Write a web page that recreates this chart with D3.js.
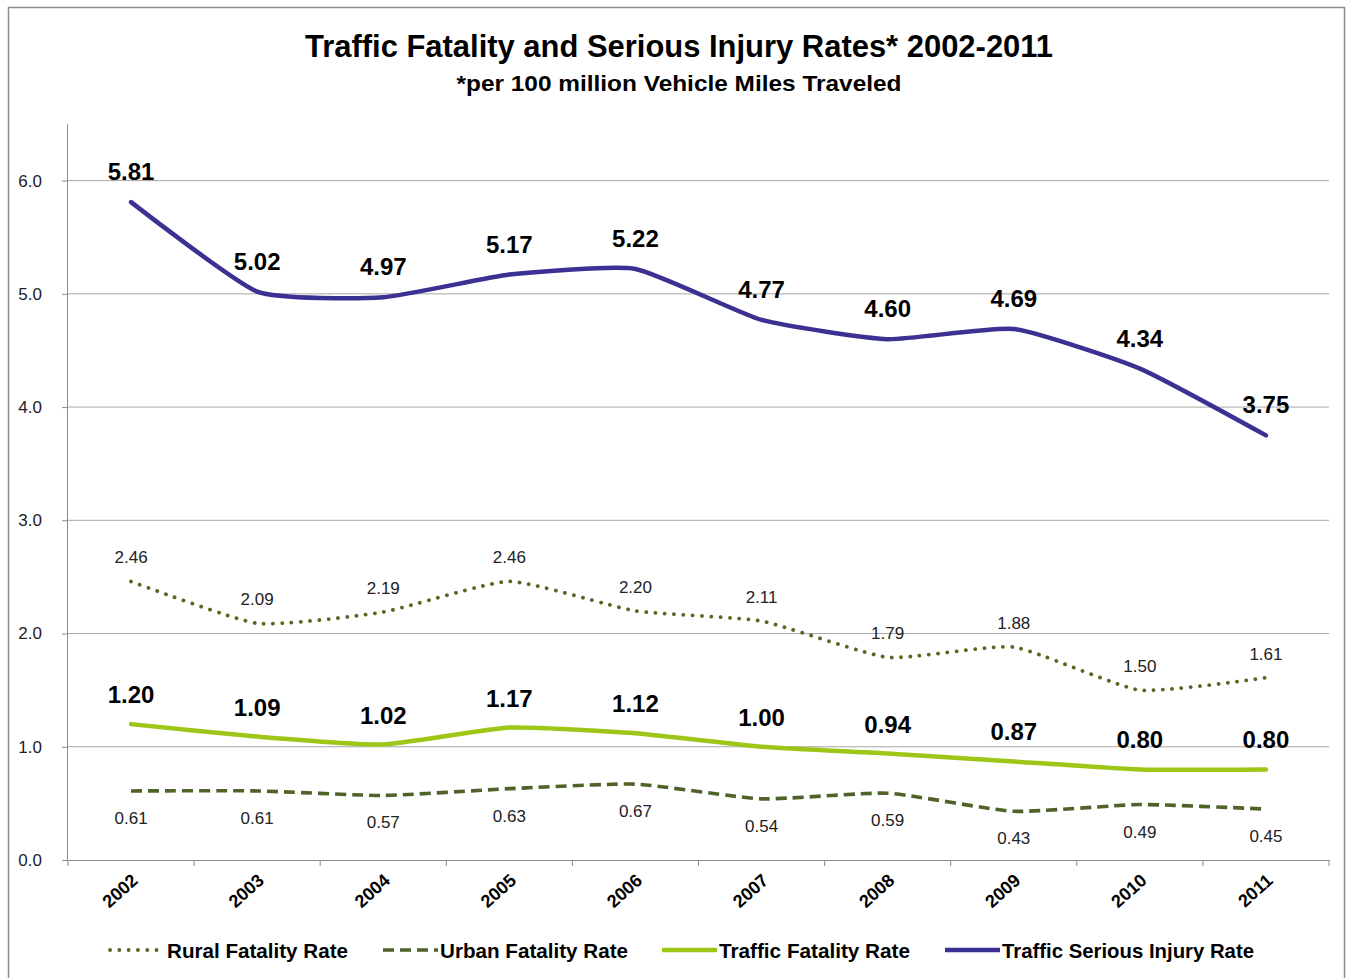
<!DOCTYPE html>
<html>
<head>
<meta charset="utf-8">
<script src="https://cdn.jsdelivr.net/npm/d3@7"></script>
<style>
  body { margin: 0; background: #fff; }
  svg text { font-family: "Liberation Sans", Arial, sans-serif; }
</style>
</head>
<body>
<div id="chart"></div>
<script>
const years = ["2002", "2003", "2004", "2005", "2006", "2007", "2008", "2009", "2010", "2011"];
const ruralRate = [2.46, 2.09, 2.19, 2.46, 2.20, 2.11, 1.79, 1.88, 1.50, 1.61];
const urbanRate = [0.61, 0.61, 0.57, 0.63, 0.67, 0.54, 0.59, 0.43, 0.49, 0.45];
const fatalityRate = [1.20, 1.09, 1.02, 1.17, 1.12, 1.00, 0.94, 0.87, 0.80, 0.80];
const injuryRate = [5.81, 5.02, 4.97, 5.17, 5.22, 4.77, 4.60, 4.69, 4.34, 3.75];
const yTicks = [0, 1, 2, 3, 4, 5, 6];

const width = 1348, height = 978;
const margin = { top: 124, right: 19, bottom: 118, left: 68 };

const series = [
  { name: "Rural Fatality Rate", values: ruralRate, color: "#56691f", width: 3.8, dash: "0.1 9.2", cap: "round", labelSize: 17, bold: false, dy: -18, legendW: 181 },
  { name: "Urban Fatality Rate", values: urbanRate, color: "#4f6228", width: 3.6, dash: "11 6", cap: "butt", labelSize: 17, bold: false, dy: 33, legendW: 188 },
  { name: "Traffic Fatality Rate", values: fatalityRate, color: "#9dc617", width: 4.5, dash: null, cap: "round", labelSize: 24, bold: true, dy: -21, legendW: 191 },
  { name: "Traffic Serious Injury Rate", values: injuryRate, color: "#3b3192", width: 4.5, dash: null, cap: "round", labelSize: 24, bold: true, dy: -22, legendW: 252 }
];

const svg = d3.select("#chart").append("svg")
  .attr("width", width)
  .attr("height", height);

// chart border
svg.append("rect")
  .attr("x", 8.5).attr("y", 7.5)
  .attr("width", 1336).attr("height", 975)
  .attr("fill", "#fff")
  .attr("stroke", "#8c8c8c")
  .attr("stroke-width", 1.5);

// title
svg.append("text")
  .attr("x", 679).attr("y", 57)
  .attr("text-anchor", "middle")
  .attr("font-size", 32).attr("font-weight", "bold")
  .attr("textLength", 748).attr("lengthAdjust", "spacingAndGlyphs")
  .text("Traffic Fatality and Serious Injury Rates* 2002-2011");

svg.append("text")
  .attr("x", 679).attr("y", 91)
  .attr("text-anchor", "middle")
  .attr("font-size", 22).attr("font-weight", "bold")
  .attr("textLength", 445).attr("lengthAdjust", "spacingAndGlyphs")
  .text("*per 100 million Vehicle Miles Traveled");

const x = d3.scaleBand().domain(years).range([margin.left, width - margin.right]);
const y = d3.scaleLinear().domain([0, 6.5]).range([height - margin.bottom, margin.top]);
const cx = d => x(d) + x.bandwidth() / 2;

const g = svg.append("g");

// gridlines
g.append("g")
  .selectAll("line")
  .data(yTicks.filter(t => t > 0))
  .join("line")
  .attr("x1", margin.left).attr("x2", width - margin.right)
  .attr("y1", d => y(d)).attr("y2", d => y(d))
  .attr("stroke", "#a6a6a6").attr("stroke-width", 1);

// y axis
const yAxis = g.append("g")
  .attr("transform", `translate(${margin.left},0)`)
  .call(d3.axisLeft(y).tickValues(yTicks).tickFormat(d3.format(".1f")).tickSize(6).tickPadding(20));
yAxis.select(".domain").attr("stroke", "#8c8c8c").attr("d", `M-0.5,${y(6.5)}V${y(0)}`);
yAxis.selectAll(".tick line").attr("stroke", "#8c8c8c");
yAxis.selectAll(".tick text").attr("font-size", 17).attr("fill", "#222")
  .attr("font-family", "Liberation Sans, Arial, sans-serif");

// x axis
const xAxis = g.append("g")
  .attr("transform", `translate(0,${y(0)})`)
  .call(d3.axisBottom(x).tickSize(0).tickFormat(""));
xAxis.select(".domain").attr("stroke", "#8c8c8c");
xAxis.selectAll(".tick").remove();

g.append("g")
  .selectAll("line")
  .data(d3.range(years.length + 1))
  .join("line")
  .attr("x1", i => margin.left + i * x.step()).attr("x2", i => margin.left + i * x.step())
  .attr("y1", y(0)).attr("y2", y(0) + 6)
  .attr("stroke", "#8c8c8c");

g.append("g")
  .selectAll("text")
  .data(years)
  .join("text")
  .attr("transform", d => `translate(${cx(d) + 8},${y(0) + 22}) rotate(-42)`)
  .attr("text-anchor", "end")
  .attr("font-size", 18).attr("font-weight", "bold")
  .text(d => d);

// lines
const line = d3.line()
  .x((d, i) => cx(years[i]))
  .y(d => y(d))
  .curve(d3.curveCardinal.tension(0.5));

series.forEach(s => {
  g.append("path")
    .datum(s.values)
    .attr("fill", "none")
    .attr("stroke", s.color)
    .attr("stroke-width", s.width)
    .attr("stroke-linecap", s.cap)
    .attr("stroke-linejoin", "round")
    .attr("stroke-dasharray", s.dash)
    .attr("d", line);

  g.append("g")
    .selectAll("text")
    .data(s.values)
    .join("text")
    .attr("x", (d, i) => cx(years[i]))
    .attr("y", d => y(d) + s.dy)
    .attr("text-anchor", "middle")
    .attr("font-size", s.labelSize)
    .attr("font-weight", s.bold ? "bold" : "normal")
    .attr("fill", s.bold ? "#000" : "#222")
    .text(d => d.toFixed(2));
});

// legend
const legendX = [110, 383, 662, 945];
const legend = svg.append("g").attr("transform", "translate(0,950)");
series.forEach((s, i) => {
  legend.append("line")
    .attr("x1", legendX[i]).attr("x2", legendX[i] + 55)
    .attr("y1", 0).attr("y2", 0)
    .attr("stroke", s.color)
    .attr("stroke-width", s.width)
    .attr("stroke-linecap", s.dash ? s.cap : "butt")
    .attr("stroke-dasharray", s.dash);
  legend.append("text")
    .attr("x", legendX[i] + 57).attr("y", 8)
    .attr("font-size", 21).attr("font-weight", "bold")
    .attr("textLength", s.legendW).attr("lengthAdjust", "spacingAndGlyphs")
    .text(s.name);
});
</script>
</body>
</html>
